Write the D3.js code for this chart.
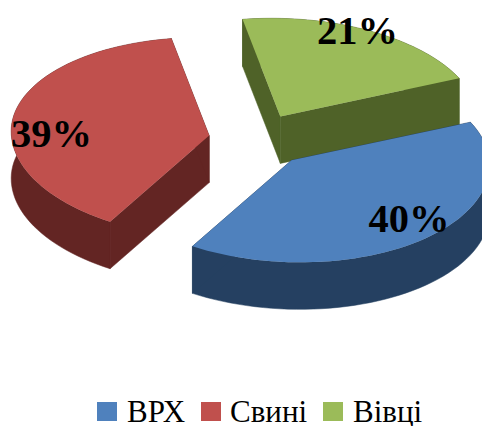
<!DOCTYPE html>
<html>
<head>
<meta charset="utf-8">
<script src="https://cdn.jsdelivr.net/npm/d3@7"></script>
<style>
  html, body { margin: 0; padding: 0; background: #fff; }
  svg { display: block; }
  text { font-family: "Liberation Serif", serif; fill: #000; }
</style>
</head>
<body>
<svg id="chart" width="482" height="426"></svg>
<script>
const categories = ['ВРХ', 'Свині', 'Вівці'];
const shares = [40.4, 38.6, 21];
const shareLabels = ['40%', '39%', '21%'];

const topColors = ['#4f81bd', '#c0504d', '#9bbb59'];
const wallColors = ['#254061', '#632523', '#4f6228'];

// label and legend placement, same order as categories
const labelX = [409, 51.5, 357.5];
const labelY = [232, 147, 44];
const swatchX = [97, 201, 323];
const legendTextX = [127, 230, 353];

const svg = d3.select('#chart');

const depth = 47;
const explodeX = 0.25, explodeY = 0.27;
const shear = 0.022;  // the 3D view tips the pie slightly to the right
const cx = 258, cy = 140;

const sx = d3.scaleLinear().domain([-1, 1]).range([-198, 198]);
// front half of the ellipse is a bit deeper than the back half
const sy = d3.scaleLinear().domain([-1, 0, 1]).range([-98, 0, 102]);

const pie = d3.pie().sort(null)
  .startAngle(64.6 * Math.PI / 180)
  .endAngle((64.6 + 360) * Math.PI / 180);
const slices = pie(shares);

const line = d3.line();
const g = svg.append('g');

// back to front so the blue slice sits over the green wall
[2, 1, 0].forEach(i => {
  const s = slices[i];
  const mid = (s.startAngle + s.endAngle) / 2;
  const apex = [cx + sx(explodeX * Math.sin(mid)), cy + sy(-explodeY * Math.cos(mid))];
  const pt = a => {
    const x = sx(Math.sin(a));
    return [apex[0] + x, apex[1] + sy(-Math.cos(a)) + shear * x];
  };
  const rim = d3.range(0, 61).map(k => pt(s.startAngle + (s.endAngle - s.startAngle) * k / 60));
  const down = p => [p[0], p[1] + depth];

  // walls first, the top face covers whatever faces away
  const wall = (pts) => g.append('path')
    .attr('d', line(pts.concat(pts.map(down).reverse())) + 'Z')
    .attr('fill', wallColors[i])
    .attr('stroke', wallColors[i])
    .attr('stroke-width', 0.5);
  wall(rim);
  wall([apex, rim[0]]);
  wall([apex, rim[rim.length - 1]]);

  g.append('path')
    .attr('d', line([apex].concat(rim)) + 'Z')
    .attr('fill', topColors[i]);
});

svg.append('g').selectAll('text')
  .data(shareLabels)
  .join('text')
  .attr('x', (d, i) => labelX[i])
  .attr('y', (d, i) => labelY[i])
  .attr('text-anchor', 'middle')
  .attr('font-size', 40.5)
  .attr('font-weight', 'bold')
  .text(d => d);

const legend = svg.append('g');
legend.selectAll('rect')
  .data(categories)
  .join('rect')
  .attr('x', (d, i) => swatchX[i])
  .attr('y', 402)
  .attr('width', 20)
  .attr('height', 19)
  .attr('fill', (d, i) => topColors[i]);
legend.selectAll('text')
  .data(categories)
  .join('text')
  .attr('x', (d, i) => legendTextX[i])
  .attr('y', 422)
  .attr('font-size', 31)
  .text(d => d);
</script>
</body>
</html>
